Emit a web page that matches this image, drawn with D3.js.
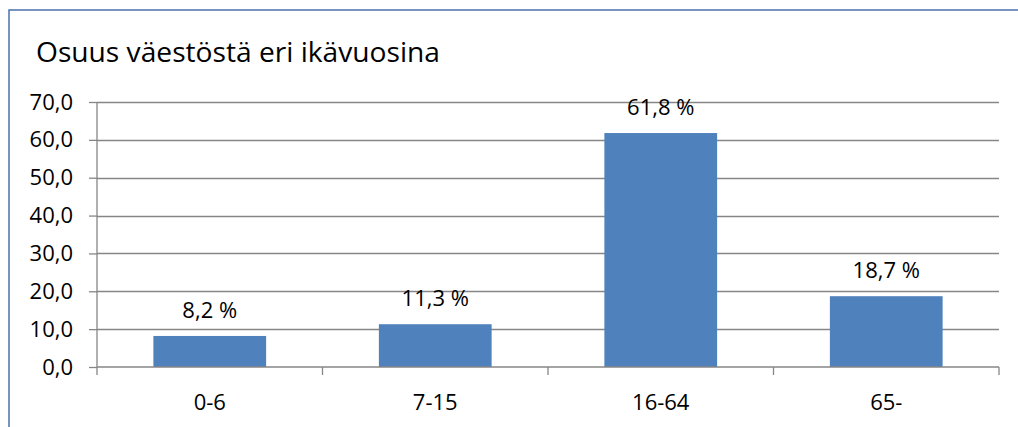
<!DOCTYPE html>
<html>
<head>
<meta charset="utf-8">
<script src="https://cdn.jsdelivr.net/npm/d3@7"></script>
<style>
  body { margin: 0; background: #fff; }
  svg text { font-family: "Open Sans", sans-serif; fill: #000; }
</style>
</head>
<body>
<div id="chart"></div>
<script>
// data
const categories = ["0-6", "7-15", "16-64", "65-"];
const values = [8.2, 11.3, 61.8, 18.7];
const yTicks = [0, 10, 20, 30, 40, 50, 60, 70];
const title = "Osuus väestöstä eri ikävuosina";

let width = 1018;
let height = 427;
let margin = {left: 97, right: 19, top: 102, bottom: 60};

let svg = d3.select("#chart")
    .append("svg")
    .attr("width", width)
    .attr("height", height);

// frame around the chart
svg.append("rect")
    .attr("x", 9).attr("y", 10)
    .attr("width", width + 10).attr("height", height + 10)
    .attr("fill", "none")
    .attr("stroke", "#4a72aa")
    .attr("stroke-width", 1.5);

svg.append("text")
    .attr("x", 36).attr("y", 62)
    .attr("font-size", 27)
    .attr("textLength", 404)
    .attr("lengthAdjust", "spacingAndGlyphs")
    .text(title);

let x = d3.scaleBand()
    .domain(categories)
    .range([margin.left, width - margin.right])
    .paddingInner(0.5)
    .paddingOuter(0.25);

let y = d3.scaleLinear()
    .domain([0, 70])
    .range([367, margin.top]);

// grid
svg.append("g")
    .selectAll("line")
    .data(yTicks.filter(d => d > 0))
    .join("line")
    .attr("x1", margin.left).attr("x2", width - margin.right)
    .attr("y1", d => Math.round(y(d)) + 0.5)
    .attr("y2", d => Math.round(y(d)) + 0.5)
    .attr("stroke", "#868686")
    .attr("stroke-width", 1.3);

// bars
svg.append("g")
    .selectAll("rect")
    .data(values)
    .join("rect")
    .attr("x", (d, i) => x(categories[i]))
    .attr("width", x.bandwidth())
    .attr("y", d => y(d))
    .attr("height", d => y(0) - y(d))
    .attr("fill", "#4f81bd");

// value labels
svg.append("g")
    .selectAll("text")
    .data(values)
    .join("text")
    .attr("x", (d, i) => x(categories[i]) + x.bandwidth() / 2)
    .attr("y", d => y(d) - 18)
    .attr("text-anchor", "middle")
    .attr("font-size", 22)
    .text(d => d3.format(".1f")(d).replace(".", ",") + " %");

// y axis
let yAxis = svg.append("g")
    .attr("transform", `translate(${margin.left},0)`)
    .call(d3.axisLeft(y).tickValues(yTicks).tickSize(8).tickPadding(16)
        .tickFormat(d => d3.format(".1f")(d).replace(".", ",")));
yAxis.select(".domain").attr("stroke", "#868686").attr("stroke-width", 1.3)
    .attr("d", `M0,${y(0)}V${y(70)}`);
yAxis.selectAll(".tick line").attr("stroke", "#868686").attr("stroke-width", 1.3);
yAxis.selectAll(".tick text").attr("font-size", 22).attr("font-family", "Open Sans, sans-serif").attr("fill", "#000");

// x axis with ticks on category boundaries
let bounds = d3.range(categories.length + 1).map(i => margin.left + i * (width - margin.left - margin.right) / categories.length);
let xAxis = svg.append("g");
xAxis.append("line")
    .attr("x1", margin.left).attr("x2", width - margin.right)
    .attr("y1", y(0)).attr("y2", y(0))
    .attr("stroke", "#868686").attr("stroke-width", 1.3);
xAxis.selectAll(".bt")
    .data(bounds)
    .join("line")
    .attr("class", "bt")
    .attr("x1", d => d).attr("x2", d => d)
    .attr("y1", y(0)).attr("y2", y(0) + 8)
    .attr("stroke", "#868686").attr("stroke-width", 1.3);
xAxis.selectAll("text")
    .data(categories)
    .join("text")
    .attr("x", d => x(d) + x.bandwidth() / 2)
    .attr("y", 410)
    .attr("text-anchor", "middle")
    .attr("font-size", 22)
    .text(d => d);
</script>
</body>
</html>
